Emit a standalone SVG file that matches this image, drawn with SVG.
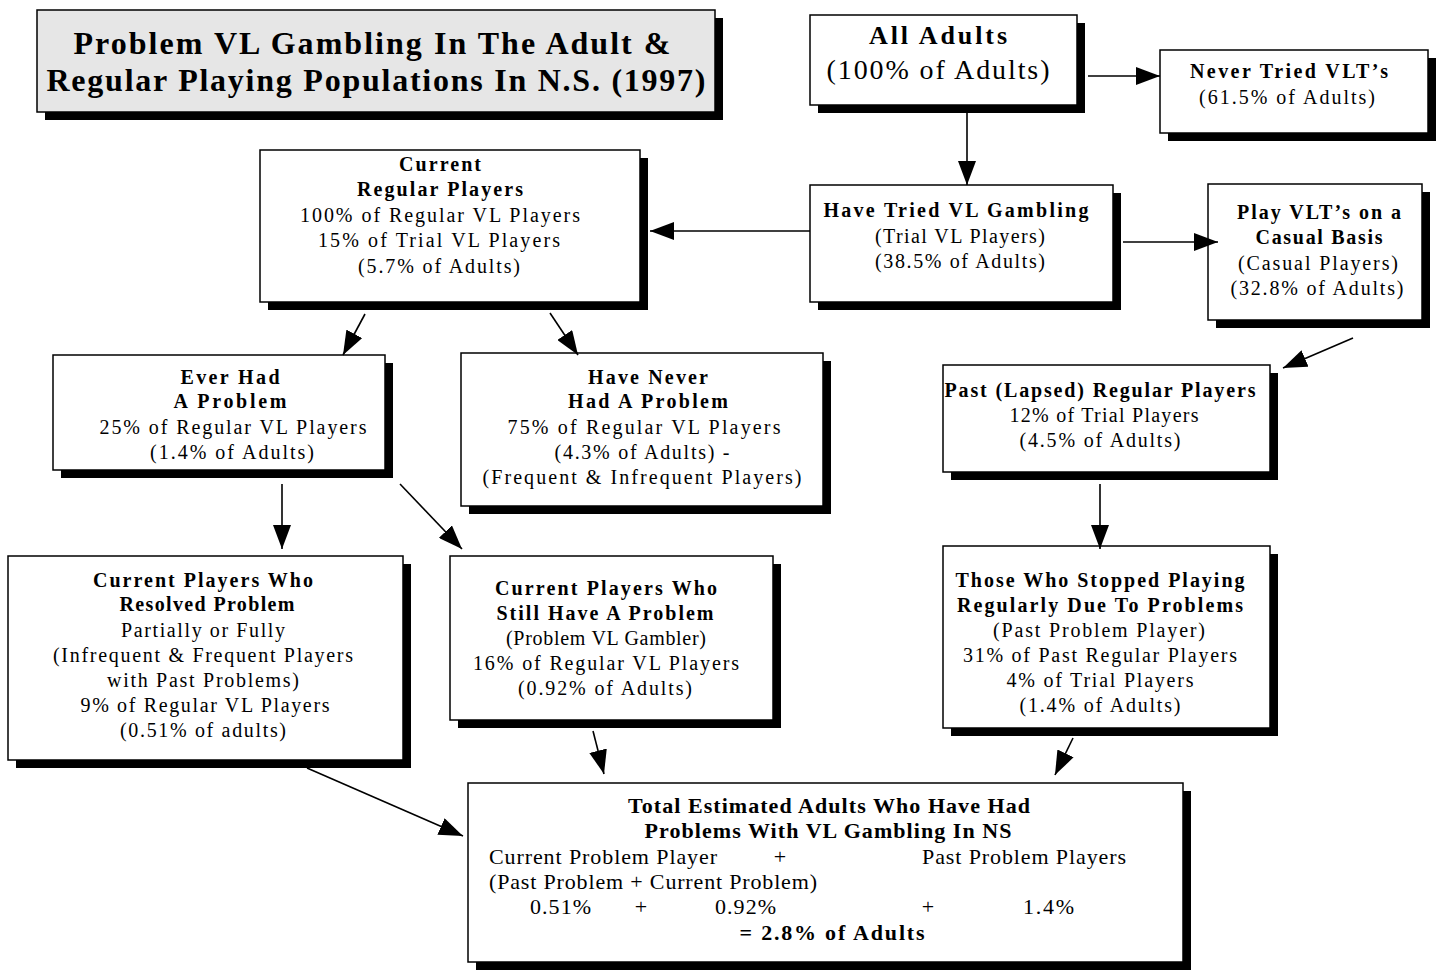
<svg xmlns="http://www.w3.org/2000/svg" width="1440" height="973" viewBox="0 0 1440 973">
<defs>
<style>
.box{fill:#fff;stroke:#000;stroke-width:1.5}
.sh{fill:#000}
.b{font-family:"Liberation Serif","Times New Roman",serif;font-weight:bold;font-size:20px;fill:#000;text-anchor:middle}
.r{font-family:"Liberation Serif","Times New Roman",serif;font-size:20px;fill:#000;text-anchor:middle}
.rl{font-family:"Liberation Serif","Times New Roman",serif;font-size:20px;fill:#000}
.t{font-size:32px}
.s26{font-size:26px}
.s28{font-size:28px}
.s19{font-size:19px}
.s22{font-size:22px}
.c{stroke:#000;stroke-width:1.6;fill:none;marker-end:url(#ah)}
</style>
<marker id="ah" markerUnits="userSpaceOnUse" markerWidth="24" markerHeight="18" viewBox="0 0 24 18" refX="24" refY="9" orient="auto">
<path d="M0,0 L24,9 L0,18 Z" fill="#000"/>
</marker>
</defs>
<rect width="1440" height="973" fill="#fff"/>

<g id="title">
<rect class="sh" x="45" y="18" width="678" height="102"/>
<rect x="37" y="10" width="678" height="102" fill="#e6e6e6" stroke="#000" stroke-width="1.5"/>
<text class="b t" x="372" y="54" textLength="597" lengthAdjust="spacing">Problem VL Gambling In The Adult &amp;</text>
<text class="b t" x="376" y="91" textLength="659" lengthAdjust="spacing">Regular Playing Populations In N.S. (1997)</text>
</g>

<g id="allAdults">
<rect class="sh" x="818" y="23" width="267" height="90"/>
<rect class="box" x="810" y="15" width="267" height="90"/>
<text class="b s26" x="938" y="44" textLength="138" lengthAdjust="spacing">All Adults</text>
<text class="r s28" x="938" y="79" textLength="223" lengthAdjust="spacing">(100% of Adults)</text>
</g>

<g id="neverTried">
<rect class="sh" x="1168" y="58" width="268" height="83"/>
<rect class="box" x="1160" y="50" width="268" height="83"/>
<text class="b" x="1289" y="78" textLength="198" lengthAdjust="spacing">Never Tried VLT’s</text>
<text class="r" x="1287" y="104" textLength="176" lengthAdjust="spacing">(61.5% of Adults)</text>
</g>

<g id="currentRegular">
<rect class="sh" x="268" y="158" width="380" height="152"/>
<rect class="box" x="260" y="150" width="380" height="152"/>
<text class="b" x="440" y="171" textLength="82" lengthAdjust="spacing">Current</text>
<text class="b" x="440" y="196" textLength="166" lengthAdjust="spacing">Regular Players</text>
<text class="r" x="440" y="222" textLength="280" lengthAdjust="spacing">100% of Regular VL Players</text>
<text class="r" x="439" y="247" textLength="242" lengthAdjust="spacing">15% of Trial VL Players</text>
<text class="r" x="439" y="273" textLength="162" lengthAdjust="spacing">(5.7% of Adults)</text>
</g>

<g id="haveTried">
<rect class="sh" x="818" y="193" width="303" height="117"/>
<rect class="box" x="810" y="185" width="303" height="117"/>
<text class="b" x="956" y="217" textLength="265" lengthAdjust="spacing">Have Tried VL Gambling</text>
<text class="r" x="960" y="243" textLength="170" lengthAdjust="spacing">(Trial VL Players)</text>
<text class="r" x="960" y="268" textLength="170" lengthAdjust="spacing">(38.5% of Adults)</text>
</g>

<g id="playVLT">
<rect class="sh" x="1216" y="192" width="214" height="136"/>
<rect class="box" x="1208" y="184" width="214" height="136"/>
<text class="b" x="1319" y="219" textLength="164" lengthAdjust="spacing">Play VLT’s on a</text>
<text class="b" x="1319" y="244" textLength="127" lengthAdjust="spacing">Casual Basis</text>
<text class="r" x="1318" y="270" textLength="160" lengthAdjust="spacing">(Casual Players)</text>
<text class="r" x="1317" y="295" textLength="173" lengthAdjust="spacing">(32.8% of Adults)</text>
</g>

<g id="pastLapsed">
<rect class="sh" x="951" y="373" width="327" height="107"/>
<rect class="box" x="943" y="365" width="327" height="107"/>
<text class="b" x="1100" y="397" textLength="311" lengthAdjust="spacing">Past (Lapsed) Regular Players</text>
<text class="r" x="1104" y="422" textLength="189" lengthAdjust="spacing">12% of Trial Players</text>
<text class="r" x="1100" y="447" textLength="161" lengthAdjust="spacing">(4.5% of Adults)</text>
</g>

<g id="thoseStopped">
<rect class="sh" x="951" y="554" width="327" height="182"/>
<rect class="box" x="943" y="546" width="327" height="182"/>
<text class="b" x="1100" y="587" textLength="289" lengthAdjust="spacing">Those Who Stopped Playing</text>
<text class="b" x="1100" y="612" textLength="286" lengthAdjust="spacing">Regularly Due To Problems</text>
<text class="r" x="1099" y="637" textLength="212" lengthAdjust="spacing">(Past Problem Player)</text>
<text class="r" x="1100" y="662" textLength="274" lengthAdjust="spacing">31% of Past Regular Players</text>
<text class="r" x="1100" y="687" textLength="187" lengthAdjust="spacing">4% of Trial Players</text>
<text class="r" x="1100" y="712" textLength="161" lengthAdjust="spacing">(1.4% of Adults)</text>
</g>

<g id="everHad">
<rect class="sh" x="61" y="363" width="332" height="115"/>
<rect class="box" x="53" y="355" width="332" height="115"/>
<text class="b" x="230" y="384" textLength="99" lengthAdjust="spacing">Ever Had</text>
<text class="b" x="230" y="408" textLength="113" lengthAdjust="spacing">A Problem</text>
<text class="r" x="233" y="434" textLength="267" lengthAdjust="spacing">25% of Regular VL Players</text>
<text class="r" x="232" y="459" textLength="164" lengthAdjust="spacing">(1.4% of Adults)</text>
</g>

<g id="haveNever">
<rect class="sh" x="469" y="361" width="362" height="153"/>
<rect class="box" x="461" y="353" width="362" height="153"/>
<text class="b" x="648" y="384" textLength="120" lengthAdjust="spacing">Have Never</text>
<text class="b" x="648" y="408" textLength="160" lengthAdjust="spacing">Had A Problem</text>
<text class="r" x="644" y="434" textLength="273" lengthAdjust="spacing">75% of Regular VL Players</text>
<text class="r" x="642" y="459" textLength="175" lengthAdjust="spacing">(4.3% of Adults) -</text>
<text class="r" x="642" y="484" textLength="319" lengthAdjust="spacing">(Frequent &amp; Infrequent Players)</text>
</g>

<g id="currentResolved">
<rect class="sh" x="16" y="564" width="395" height="204"/>
<rect class="box" x="8" y="556" width="395" height="204"/>
<text class="b" x="203" y="587" textLength="220" lengthAdjust="spacing">Current Players Who</text>
<text class="b" x="207" y="611" textLength="175" lengthAdjust="spacing">Resolved Problem</text>
<text class="r" x="203" y="637" textLength="164" lengthAdjust="spacing">Partially or Fully</text>
<text class="r" x="203" y="662" textLength="300" lengthAdjust="spacing">(Infrequent &amp; Frequent Players</text>
<text class="r" x="203" y="687" textLength="192" lengthAdjust="spacing">with Past Problems)</text>
<text class="r" x="205" y="712" textLength="249" lengthAdjust="spacing">9% of Regular VL Players</text>
<text class="r" x="203" y="737" textLength="166" lengthAdjust="spacing">(0.51% of adults)</text>
</g>

<g id="stillHave">
<rect class="sh" x="458" y="564" width="323" height="164"/>
<rect class="box" x="450" y="556" width="323" height="164"/>
<text class="b" x="606" y="595" textLength="222" lengthAdjust="spacing">Current Players Who</text>
<text class="b" x="605" y="620" textLength="217" lengthAdjust="spacing">Still Have A Problem</text>
<text class="r" x="606" y="645" textLength="200" lengthAdjust="spacing">(Problem VL Gambler)</text>
<text class="r" x="606" y="670" textLength="266" lengthAdjust="spacing">16% of Regular VL Players</text>
<text class="r" x="605" y="695" textLength="174" lengthAdjust="spacing">(0.92% of Adults)</text>
</g>

<g id="total">
<rect class="sh" x="476" y="791" width="715" height="179"/>
<rect class="box" x="468" y="783" width="715" height="179"/>
<text class="b s22" x="829" y="813" textLength="402" lengthAdjust="spacing">Total Estimated Adults Who Have Had</text>
<text class="b s22" x="828" y="838" textLength="367" lengthAdjust="spacing">Problems With VL Gambling In NS</text>
<text class="rl s22" x="489" y="864" textLength="228" lengthAdjust="spacing">Current Problem Player</text>
<text class="r s22" x="780" y="864">+</text>
<text class="rl s22" x="922" y="864" textLength="204" lengthAdjust="spacing">Past Problem Players</text>
<text class="rl s22" x="489" y="889" textLength="328" lengthAdjust="spacing">(Past Problem + Current Problem)</text>
<text class="rl s22" x="530" y="914" textLength="61" lengthAdjust="spacing">0.51%</text>
<text class="r s22" x="641" y="914">+</text>
<text class="rl s22" x="715" y="914" textLength="61" lengthAdjust="spacing">0.92%</text>
<text class="r s22" x="928" y="914">+</text>
<text class="rl s22" x="1023" y="914" textLength="51" lengthAdjust="spacing">1.4%</text>
<text class="b s22" x="832" y="940" textLength="185" lengthAdjust="spacing">= 2.8% of Adults</text>
</g>

<g id="connectors">
<line class="c" x1="1088" y1="76" x2="1160" y2="76"/>
<line class="c" x1="967" y1="113" x2="967" y2="185"/>
<line class="c" x1="810" y1="231" x2="650" y2="231"/>
<line class="c" x1="1123" y1="242" x2="1218" y2="242"/>
<line class="c" x1="1353" y1="338" x2="1283" y2="368"/>
<line class="c" x1="1100" y1="484" x2="1100" y2="549"/>
<line class="c" x1="365" y1="314" x2="343" y2="355"/>
<line class="c" x1="550" y1="313" x2="578" y2="355"/>
<line class="c" x1="282" y1="484" x2="282" y2="549"/>
<line class="c" x1="400" y1="484" x2="462" y2="549"/>
<line class="c" x1="593" y1="731" x2="604" y2="774"/>
<line class="c" x1="1073" y1="738" x2="1055" y2="775"/>
<line class="c" x1="307" y1="768" x2="463" y2="836"/>
</g>
</svg>
